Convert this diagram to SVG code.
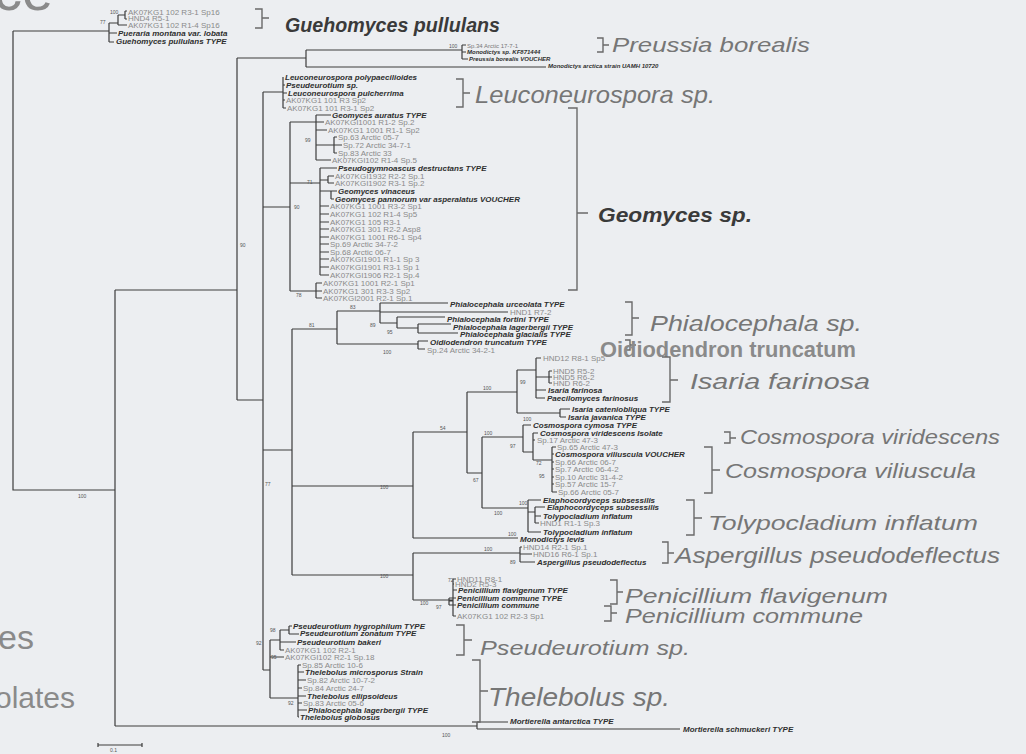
<svg xmlns="http://www.w3.org/2000/svg" width="1026" height="754" viewBox="0 0 1026 754">
<style>
.ln{fill:none;stroke:#3c3c3c;stroke-width:1.2}
.br{fill:none;stroke:#6a6a6a;stroke-width:1.4}
.c{font-family:"Liberation Sans",Arial,sans-serif;font-size:8px;fill:#8a8a8a}
.s{font-family:"Liberation Sans",Arial,sans-serif;font-size:8px;font-style:italic;font-weight:bold;fill:#2e2e2e}
.c6{font-family:"Liberation Sans",Arial,sans-serif;font-size:6px;fill:#777}
.s6{font-family:"Liberation Sans",Arial,sans-serif;font-size:6px;font-style:italic;font-weight:bold;fill:#2e2e2e}
.b{font-family:"Liberation Sans",Arial,sans-serif;font-size:5px;fill:#555}
.g{font-family:"Liberation Sans",Arial,sans-serif;font-style:italic;fill:#767676}
.gd{font-family:"Liberation Sans",Arial,sans-serif;font-style:italic;font-weight:bold;fill:#3a3a3a}
.big{font-family:"Liberation Sans",Arial,sans-serif;fill:#8a8a8a}
</style>
<rect width="1026" height="754" fill="#eceef1"/>
<text class="big" x="-6" y="10" font-size="56">ce</text>
<text class="big" x="-2" y="649" font-size="34">es</text>
<text class="big" x="-5" y="708" font-size="30">olates</text>

<g id="connectors">
<path class="ln" d="M13,31 V490 H115 M13,31 H109 M109,23 V42 M109,23 H118 M118,15 V25 M118,15 H125 M125,11 V19 M125,11 H127 M125,19 H127 M118,25 H127 M109,33 H117 M109,42 H114"/>
<path class="ln" d="M115,290 V726 M115,290 H237 M237,58 V400 M237,58 H306 M306,50 V67 M306,50 H462 M462,45 V59 M462,45 H466 M462,52 H466 M462,59 H468 M306,67 H546"/>
<path class="ln" d="M237,400 H263 M263,92 V670 M263,92 H283 M283,77 V108 M283,85 H285 M283,93 H287 M283,100 H285 M283,108 H286"/>
<path class="ln" d="M263,207 H290 M290,122 V291 M290,122 H316 M316,115 V160 M316,115 H331 M316,122 H324 M316,130 H327 M316,145 H334 M334,137 V153 M334,137 H337 M334,145 H342 M334,153 H337 M316,160 H331 M290,183 H320 M320,168 V275 M320,168 H337 M320,180 H328 M328,176 V183 M328,176 H334 M328,183 H334 M320,191 H331 M331,191 V199 M331,191 H337 M331,199 H334 M320,206 H329 M320,214 H329 M320,222 H329 M320,229 H329 M320,237 H329 M320,244 H329 M320,252 H329 M320,259 H329 M320,267 H329 M320,275 H329 M290,291 H316 M316,283 V298 M316,283 H322 M316,291 H322 M316,298 H322"/>
<path class="ln" d="M263,450 H292 M292,329 V575 M292,329 H337 M337,311 V344 M337,311 H380 M380,303 V323 M380,303 H448 M380,312 H508 M380,323 H397 M397,317 V328 M397,317 H445 M397,328 H418 M418,324 V333 M418,324 H451 M418,333 H458 M337,344 H418 M418,341 V349 M418,341 H428 M418,349 H425"/>
<path class="ln" d="M292,486 H413 M413,432 V538 M413,432 H467 M467,392 V473 M467,392 H517 M517,370 V413 M517,370 H536 M536,358 V398 M536,358 H541 M536,377 H549 M549,371 V383 M549,371 H552 M549,377 H552 M549,383 H552 M536,390 H546 M536,398 H545 M517,413 H560 M560,409 V417 M560,409 H570 M560,417 H566"/>
<path class="ln" d="M467,473 H482 M482,437 V508 M482,437 H523 M523,425 V452 M523,425 H531 M523,452 H533 M533,433 V460 M533,433 H538 M533,440 H535 M533,460 H552 M552,447 V492 M552,447 H556 M552,454 H554 M552,462 H554 M552,469 H554 M552,477 H554 M552,484 H554 M552,492 H557 M482,508 H528 M528,500 V532 M528,500 H541 M528,512 H535 M535,507 V523 M535,507 H545 M535,516 H541 M535,523 H539 M528,532 H541 M413,538 H518"/>
<path class="ln" d="M292,575 H413 M413,553 V600 M413,553 H520 M520,547 V562 M520,547 H522 M520,554 H532 M520,562 H535 M413,600 H453 M453,579 V616 M453,579 H456 M453,584 H454 M453,590 H457 M453,601 H449 M449,598 V605 M449,598 H456 M449,605 H456 M453,616 H456"/>
<path class="ln" d="M263,670 H270 M270,640 V698 M270,640 H280 M280,630 V650 M280,630 H289 M289,626 V634 M289,626 H292 M289,634 H299 M280,642 H296 M280,650 H284 M270,657 H284 M270,698 H298 M298,665 V717 M298,665 H301 M298,672 H304 M298,680 H306 M298,688 H302 M298,696 H306 M298,703 H302 M298,710 H307 M298,717 H299"/>
<path class="ln" d="M115,726 H477 M477,722 V729 M477,722 H508 M477,729 H680"/>
<path class="ln" d="M98,745 H142 M98,743 V747 M142,743 V747"/>
</g>

<g id="bootstrap">
<text class="b" x="110" y="14">100</text><text class="b" x="100" y="24">77</text><text class="b" x="78" y="498">100</text>
<text class="b" x="449" y="48">100</text><text class="b" x="240" y="247">90</text><text class="b" x="294" y="209">90</text>
<text class="b" x="307" y="184">71</text><text class="b" x="305" y="142">99</text><text class="b" x="296" y="297">78</text>
<text class="b" x="350" y="309">83</text><text class="b" x="370" y="327">89</text><text class="b" x="387" y="334">95</text>
<text class="b" x="309" y="327">81</text><text class="b" x="383" y="354">100</text><text class="b" x="483" y="390">100</text>
<text class="b" x="520" y="384">99</text><text class="b" x="523" y="421">100</text><text class="b" x="440" y="430">54</text>
<text class="b" x="484" y="435">100</text><text class="b" x="510" y="448">97</text><text class="b" x="536" y="465">72</text>
<text class="b" x="539" y="478">95</text><text class="b" x="473" y="482">67</text><text class="b" x="519" y="505">100</text>
<text class="b" x="494" y="515">100</text><text class="b" x="508" y="536">100</text><text class="b" x="484" y="551">100</text>
<text class="b" x="510" y="564">89</text><text class="b" x="380" y="489">100</text><text class="b" x="380" y="578">100</text>
<text class="b" x="448" y="582">72</text><text class="b" x="420" y="605">100</text><text class="b" x="436" y="609">97</text>
<text class="b" x="270" y="632">98</text><text class="b" x="256" y="645">92</text><text class="b" x="271" y="659">95</text>
<text class="b" x="288" y="705">92</text><text class="b" x="442" y="737">100</text><text class="b" x="265" y="486">77</text>
<text class="b" x="110" y="752">0.1</text>
</g>

<g id="clade-guehomyces">
<text class="c" x="128" y="14.5">AK07KG1 102 R3-1 Sp16</text>
<text class="c" x="128" y="21">HND4 R5-1</text>
<text class="c" x="128" y="27.5">AK07KG1 102 R1-4 Sp16</text>
<text class="s" x="118" y="35.5">Pueraria montana var. lobata</text>
<text class="s" x="116" y="44">Guehomyces pullulans TYPE</text>
<path class="br" d="M255,9 H262 V28 H255 M262,18 H269"/>
<text class="gd" x="285" y="32" font-size="21" textLength="215" lengthAdjust="spacingAndGlyphs">Guehomyces pullulans</text>
</g>

<g id="clade-preussia">
<text class="c6" x="467" y="48">Sp.34 Arctic 17-7-1</text>
<text class="s6" x="467" y="54">Monodictys sp. KF871444</text>
<text class="s6" x="469" y="61">Preussia borealis VOUCHER</text>
<text class="s6" x="548" y="68">Monodictys arctica strain UAMH 10720</text>
<path class="br" d="M597,38 H603 V52 H597 M603,45 H609"/>
<text class="g" x="612" y="52" font-size="21" textLength="198" lengthAdjust="spacingAndGlyphs">Preussia borealis</text>
</g>

<g id="clade-leuconeurospora">
<text class="s" x="285" y="80">Leuconeurospora polypaecilioides</text>
<text class="s" x="286" y="88">Pseudeurotium sp.</text>
<text class="s" x="288" y="96">Leuconeurospora pulcherrima</text>
<text class="c" x="286" y="103" fill="#a8a8a8">AK07KG1 101 R3 Sp2</text>
<text class="c" x="287" y="111">AK07KG1 101 R3-1 Sp2</text>
<path class="br" d="M456,79 H463 V107 H456 M463,93 H470"/>
<text class="g" x="475" y="103" font-size="24" textLength="240" lengthAdjust="spacingAndGlyphs">Leuconeurospora sp.</text>
</g>

<g id="clade-geomyces">
<text class="s" x="332" y="118">Geomyces auratus TYPE</text>
<text class="c" x="325" y="125">AK07KGI1001 R1-2 Sp.2</text>
<text class="c" x="328" y="133">AK07KG1 1001 R1-1 Sp2</text>
<text class="c" x="338" y="140">Sp.63 Arctic 05-7</text>
<text class="c" x="343" y="148">Sp.72 Arctic 34-7-1</text>
<text class="c" x="338" y="156">Sp.83 Arctic 33</text>
<text class="c" x="332" y="163">AK07KGI102 R1-4 Sp.5</text>
<text class="s" x="338" y="171">Pseudogymnoascus destructans TYPE</text>
<text class="c" x="335" y="179">AK07KGI1932 R2-2 Sp.1</text>
<text class="c" x="335" y="186">AK07KGI1902 R3-1 Sp.2</text>
<text class="s" x="338" y="194">Geomyces vinaceus</text>
<text class="s" x="335" y="202">Geomyces pannorum var asperalatus VOUCHER</text>
<text class="c" x="330" y="209">AK07KG1 1001 R3-2 Sp1</text>
<text class="c" x="330" y="217">AK07KG1 102 R1-4 Sp5</text>
<text class="c" x="330" y="225">AK07KG1 105 R3-1</text>
<text class="c" x="330" y="232">AK07KG1 301 R2-2 Asp8</text>
<text class="c" x="330" y="240">AK07KG1 1001 R6-1 Sp4</text>
<text class="c" x="330" y="247">Sp.69 Arctic 34-7-2</text>
<text class="c" x="330" y="255">Sp.68 Arctic 06-7</text>
<text class="c" x="330" y="262">AK07KGI1901 R1-1 Sp 3</text>
<text class="c" x="330" y="270">AK07KGI1901 R3-1 Sp 1</text>
<text class="c" x="330" y="278">AK07KGI1906 R2-1 Sp.4</text>
<text class="c" x="323" y="286">AK07KG1 1001 R2-1 Sp1</text>
<text class="c" x="323" y="294">AK07KG1 301 R3-3 Sp2</text>
<text class="c" x="323" y="301">AK07KGI2001 R2-1 Sp.1</text>
<path class="br" d="M568,108 H577 V290 H568 M577,213 H588"/>
<text class="gd" x="598" y="222" font-size="20" textLength="154" lengthAdjust="spacingAndGlyphs">Geomyces sp.</text>
</g>

<g id="clade-phialocephala">
<text class="s" x="450" y="307">Phialocephala urceolata TYPE</text>
<text class="c" x="510" y="315">HND1 R7-2</text>
<text class="s" x="447" y="322">Phialocephala fortini TYPE</text>
<text class="s" x="453" y="329.5">Phialocephala lagerbergii TYPE</text>
<text class="s" x="460" y="336.5">Phialocephala glacialis TYPE</text>
<path class="br" d="M625,302 H632 V335 H625 M632,318 H639"/>
<text class="g" x="650" y="331" font-size="22" textLength="212" lengthAdjust="spacingAndGlyphs">Phialocephala sp.</text>
</g>

<g id="clade-oidiodendron">
<text class="s" x="430" y="345">Oidiodendron truncatum TYPE</text>
<text class="c" x="427" y="353">Sp.24 Arctic 34-2-1</text>
<path class="br" d="M625,340 H630 V350 H625 M630,345 H636"/>
<text class="big" x="600" y="357" font-size="22" font-weight="bold" fill="#5a5a5a" textLength="256" lengthAdjust="spacingAndGlyphs">Oidiodendron truncatum</text>
</g>

<g id="clade-isaria">
<text class="c" x="543" y="361">HND12 R8-1 Sp5</text>
<text class="c" x="553" y="373.5">HND5 R5-2</text>
<text class="c" x="553" y="379.5">HND5 R6-2</text>
<text class="c" x="553" y="385.5">HND R6-2</text>
<text class="s" x="548" y="393">Isaria farinosa</text>
<text class="s" x="547" y="401">Paecilomyces farinosus</text>
<text class="s" x="572" y="412">Isaria cateniobliqua TYPE</text>
<text class="s" x="568" y="420">Isaria javanica TYPE</text>
<path class="br" d="M662,357 H670 V402 H662 M670,380 H678"/>
<text class="g" x="690" y="389" font-size="22" textLength="180" lengthAdjust="spacingAndGlyphs">Isaria farinosa</text>
</g>

<g id="clade-cosmospora">
<text class="s" x="533" y="428">Cosmospora cymosa TYPE</text>
<text class="s" x="540" y="436">Cosmospora viridescens Isolate</text>
<text class="c" x="537" y="443">Sp.17 Arctic 47-3</text>
<text class="c" x="557" y="450">Sp.65 Arctic 47-3</text>
<text class="s" x="555" y="457">Cosmospora viliuscula VOUCHER</text>
<text class="c" x="555" y="465">Sp.66 Arctic 06-7</text>
<text class="c" x="555" y="472">Sp.7 Arctic 06-4-2</text>
<text class="c" x="555" y="480">Sp.10 Arctic 31-4-2</text>
<text class="c" x="555" y="487">Sp.57 Arctic 15-7</text>
<text class="c" x="558" y="495">Sp.66 Arctic 05-7</text>
<path class="br" d="M724,432 H730 V443 H724 M730,438 H736"/>
<text class="g" x="740" y="444" font-size="20" textLength="260" lengthAdjust="spacingAndGlyphs">Cosmospora viridescens</text>
<path class="br" d="M704,447 H712 V493 H704 M712,470 H720"/>
<text class="g" x="725" y="478" font-size="20" textLength="251" lengthAdjust="spacingAndGlyphs">Cosmospora viliuscula</text>
</g>

<g id="clade-tolypocladium">
<text class="s" x="543" y="503">Elaphocordyceps subsessilis</text>
<text class="s" x="547" y="510">Elaphocordyceps subsessilis</text>
<text class="s" x="543" y="519">Tolypocladium inflatum</text>
<text class="c" x="540" y="526">HND1 R1-1 Sp.3</text>
<text class="s" x="543" y="535">Tolypocladium inflatum</text>
<path class="br" d="M686,500 H694 V535 H686 M694,518 H702"/>
<text class="g" x="708" y="530" font-size="21" textLength="270" lengthAdjust="spacingAndGlyphs">Tolypocladium inflatum</text>
</g>

<g id="clade-aspergillus">
<text class="s" x="520" y="542">Monodictys levis</text>
<text class="c" x="523" y="550">HND14 R2-1 Sp.1</text>
<text class="c" x="533" y="557">HND16 R6-1 Sp.1</text>
<text class="s" x="537" y="565">Aspergillus pseudodeflectus</text>
<path class="br" d="M662,542 H668 V563 H662 M668,553 H674"/>
<text class="g" x="675" y="563" font-size="22" textLength="325" lengthAdjust="spacingAndGlyphs">Aspergillus pseudodeflectus</text>
</g>

<g id="clade-penicillium">
<text class="c" x="457" y="581.5">HND11 R8-1</text>
<text class="c" x="455" y="586.5">HND2 R5-3</text>
<text class="s" x="458" y="593">Penicillium flavigenum TYPE</text>
<text class="s" x="457" y="601">Penicillium commune TYPE</text>
<text class="s" x="457" y="608">Penicillium commune</text>
<text class="c" x="457" y="619">AK07KG1 102 R2-3 Sp1</text>
<path class="br" d="M610,580 H617 V604 H610 M617,592 H623"/>
<text class="g" x="625" y="603" font-size="21" textLength="263" lengthAdjust="spacingAndGlyphs">Penicillium flavigenum</text>
<path class="br" d="M604,606 H611 V621 H604 M611,613 H617"/>
<text class="g" x="625" y="623" font-size="21" textLength="238" lengthAdjust="spacingAndGlyphs">Penicillium commune</text>
</g>

<g id="clade-pseudeurotium">
<text class="s" x="293" y="629">Pseudeurotium hygrophilum TYPE</text>
<text class="s" x="300" y="636">Pseudeurotium zonatum TYPE</text>
<text class="s" x="297" y="645">Pseudeurotium bakeri</text>
<text class="c" x="285" y="653">AK07KG1 102 R2-1</text>
<text class="c" x="285" y="660">AK07KGI102 R2-1 Sp.18</text>
<path class="br" d="M456,625 H464 V655 H456 M464,640 H472"/>
<text class="g" x="480" y="655" font-size="21" textLength="210" lengthAdjust="spacingAndGlyphs">Pseudeurotium sp.</text>
</g>

<g id="clade-thelebolus">
<text class="c" x="302" y="668">Sp.85 Arctic 10-6</text>
<text class="s" x="305" y="675">Thelebolus microsporus Strain</text>
<text class="c" x="307" y="683">Sp.82 Arctic 10-7-2</text>
<text class="c" x="303" y="691">Sp.84 Arctic 24-7</text>
<text class="s" x="307" y="699">Thelebolus ellipsoideus</text>
<text class="c" x="303" y="706">Sp.83 Arctic 05-6</text>
<text class="s" x="308" y="713">Phialocephala lagerbergii TYPE</text>
<text class="s" x="300" y="720">Thelebolus globosus</text>
<path class="br" d="M472,660 H480 V722 H472 M480,691 H488"/>
<text class="g" x="488" y="706" font-size="26" textLength="182" lengthAdjust="spacingAndGlyphs">Thelebolus sp.</text>
</g>

<g id="clade-mortierella">
<text class="s" x="510" y="724" font-size="7.5">Mortierella antarctica TYPE</text>
<text class="s" x="683" y="732" font-size="7.5">Mortierella schmuckeri TYPE</text>
</g>
</svg>
